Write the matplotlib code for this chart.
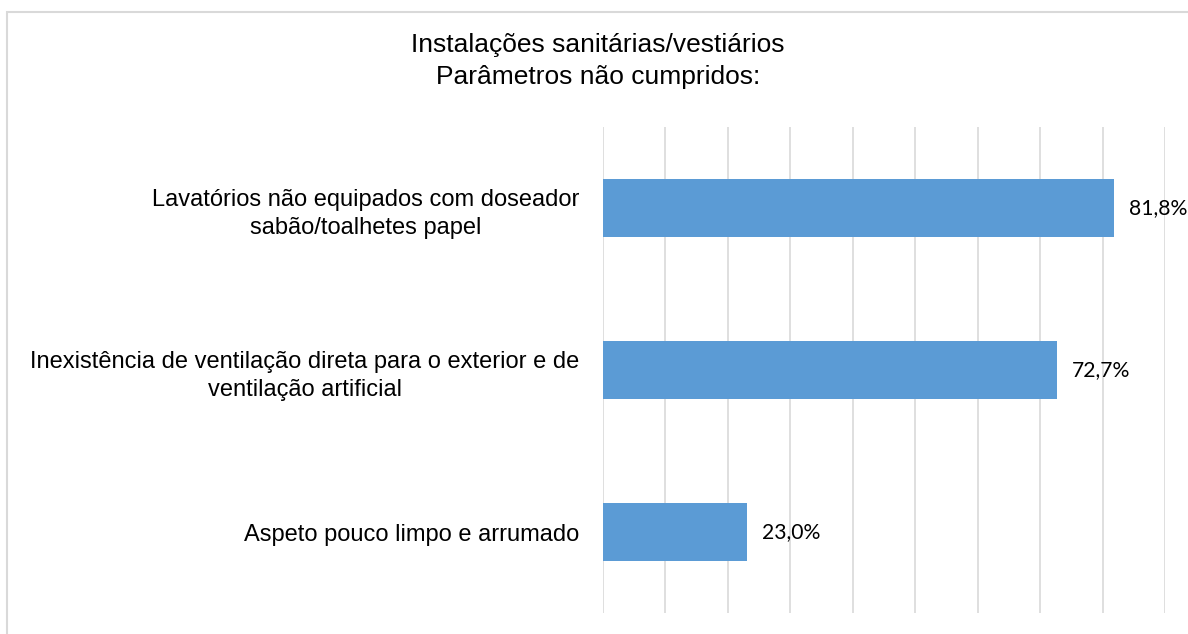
import matplotlib.pyplot as plt
from matplotlib.patches import Rectangle

# data
categories = [
    "Lavatórios não equipados com doseador\nsabão/toalhetes papel",
    "Inexistência de ventilação direta para o exterior e de\nventilação artificial",
    "Aspeto pouco limpo e arrumado",
]
values = [81.8, 72.7, 23.0]
value_labels = ["81,8%", "72,7%", "23,0%"]
title = "Instalações sanitárias/vestiários\nParâmetros não cumpridos:"

plt.rcParams['font.family'] = ['Liberation Sans', 'DejaVu Sans']

fig = plt.figure(figsize=(11.88, 6.34), dpi=100)
ax = fig.add_axes([603 / 1188, 1 - 613 / 634, (1165 - 603) / 1188, (613 - 127) / 634])

pos = list(range(len(categories)))
bars = ax.barh(pos, values, height=0.36, color='#5B9BD5', zorder=3)
ax.set_ylim(2.5, -0.5)
ax.set_xlim(0, 90)
ax.set_xticks(range(0, 91, 10))
ax.grid(axis='x', color='#d9d9d9', linewidth=1.2, zorder=0)
ax.tick_params(axis='both', length=0, labelbottom=False)
ax.set_yticks(pos)
ax.set_yticklabels(categories, fontsize=17, color='#000000', ha='right', multialignment='center',
                   linespacing=1.38)
ax.tick_params(axis='y', pad=17)
for s in ax.spines.values():
    s.set_visible(False)

for b, lab in zip(bars, value_labels):
    ax.annotate(lab, (b.get_width(), b.get_y() + b.get_height() / 2),
                xytext=(11, 0), textcoords='offset points', va='center', ha='left',
                fontsize=15.2, family=['Lato', 'DejaVu Sans'], color='#000000')

fig.text(598 / 1188, 1 - 61 / 634, title, ha='center', va='center', fontsize=19,
         linespacing=1.38, color='#000000')

# light frame of the chart area
fig.patches.append(Rectangle((7 / 1188, -0.05), 1.1, 1 - 12 / 634 + 0.05, transform=fig.transFigure,
                             fill=False, edgecolor='#d9d9d9', linewidth=1.5))

fig.savefig('out.png', dpi=100)
